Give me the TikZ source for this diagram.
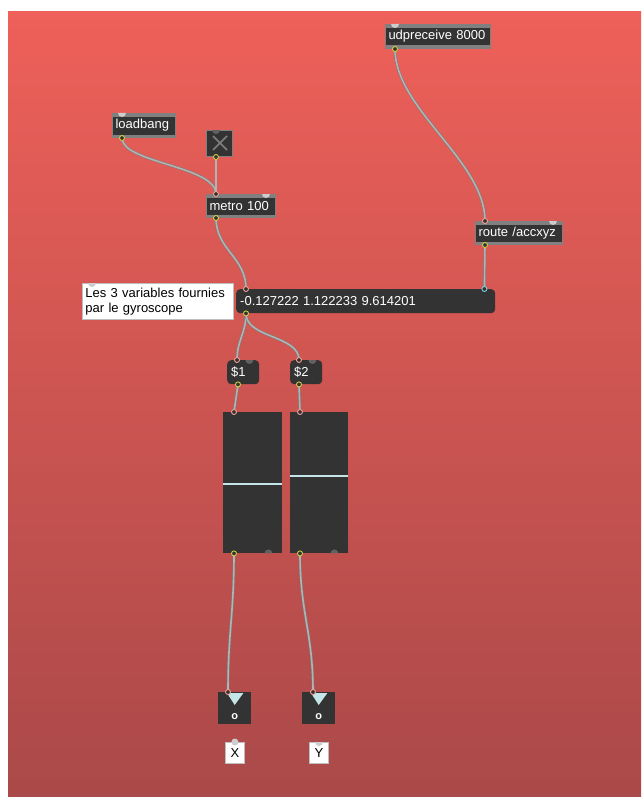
\documentclass[tikz,border=0pt]{standalone}
\usepackage{fontspec}
\setmainfont{Liberation Sans}

\definecolor{bgtop}{RGB}{238,96,89}
\definecolor{bgbottom}{RGB}{170,73,73}
\definecolor{objdark}{RGB}{51,51,51}
\definecolor{objgray}{RGB}{128,128,128}
\definecolor{cablegray}{RGB}{178,180,180}
\definecolor{cableedge}{RGB}{120,122,122}
\definecolor{knobcyan}{RGB}{196,230,232}
\definecolor{outring}{RGB}{205,205,70}
\definecolor{inring}{RGB}{236,160,150}
\definecolor{cyanring}{RGB}{120,210,225}
\definecolor{hintgray}{RGB}{205,205,205}
\definecolor{commentedge}{RGB}{190,190,190}

\newcommand{\maxfont}{\fontsize{13}{15}\selectfont}

\tikzset{
  maxobj/.style={anchor=north west, fill=objdark, draw=objgray, line width=1pt,
    text=white, font=\maxfont, inner xsep=3pt, inner ysep=0pt, align=left,
    path picture={
      \fill[objgray] (path picture bounding box.north west) rectangle ([yshift=-3.5pt]path picture bounding box.north east);
      \fill[objgray] (path picture bounding box.south west) rectangle ([yshift=3pt]path picture bounding box.south east);}},
  msgbox/.style={anchor=north west, fill=objdark, rounded corners=4pt, text=white,
    font=\maxfont, inner xsep=4pt, inner ysep=0pt, align=left},
  note/.style={anchor=north west, fill=white, draw=commentedge, line width=0.8pt,
    text=black, font=\maxfont, inner xsep=3pt, inner ysep=2pt, align=left},
  slider/.style={anchor=north west, fill=objdark, inner sep=0pt},
  outbox/.style={anchor=north west, fill=objdark, inner sep=0pt, minimum width=33, minimum height=32,
    label={[text=white, font=\bfseries\fontsize{11}{11}\selectfont, yshift=-8pt]center:o}},
  knob/.style={draw=knobcyan, line width=2pt},
  cable/.style={draw=cableedge, line width=0.5pt, double=cablegray, double distance=1.6pt},
  outport/.style={draw=outring, line width=0.9pt, fill=objdark},
  inport/.style={draw=inring, line width=0.9pt, fill=objdark},
}

\begin{document}
\begin{tikzpicture}[x=1pt,y=-1pt]
    \useasboundingbox (0,0) rectangle (641,797);
    % patcher background
    \shade[top color=bgtop, bottom color=bgbottom] (8,12) rectangle (641,797);

    % objects
    \node[maxobj, text width=99, minimum height=24] (udp) at (385,24) {udpreceive 8000};
    \node[maxobj, text width=57, minimum height=24] (lbang) at (112,113) {loadbang};
    \node[anchor=north west, fill=objdark, draw=objgray, line width=1pt,
          minimum width=26, minimum height=26, inner sep=0pt] (tog) at (206,130) {};
    \node[maxobj, text width=63, minimum height=23] (metro) at (206,194) {metro 100};
    \node[maxobj, text width=81, minimum height=23] (route) at (475,221) {route /accxyz};
    \node[note, text width=145, minimum height=36] (gyro) at (82,283) {Les 3 variables fournies\\par le gyroscope};
    \node[msgbox, text width=251, minimum height=24] (vals) at (236,289) {-0.127222 1.122233 9.614201};
    \node[msgbox, text width=24, minimum height=24] (d1) at (227,360) {\$1};
    \node[msgbox, text width=24, minimum height=24] (d2) at (290,360) {\$2};
    \node[slider, minimum width=59, minimum height=141] (sl1) at (223,412) {};
    \node[slider, minimum width=58, minimum height=141] (sl2) at (290,412) {};
    \node[outbox] (out1) at (218,692) {};
    \node[outbox] (out2) at (302,692) {};
    \node[note, inner sep=0pt, minimum width=19, minimum height=21] (lx) at (225,742) {X};
    \node[note, inner sep=0pt, minimum width=19, minimum height=21] (ly) at (309,742) {Y};

    % toggle cross
    \draw[objgray, line width=1.6pt] ([shift={(7pt,-6pt)}]tog.north west) -- ([shift={(-6pt,7pt)}]tog.south east);
    \draw[objgray, line width=1.6pt] ([shift={(7pt,7pt)}]tog.south west) -- ([shift={(-6pt,-6pt)}]tog.north east);

    % slider knobs
    \draw[knob] ([yshift=-72pt]sl1.north west) -- ([yshift=-72pt]sl1.north east);
    \draw[knob] ([yshift=-64pt]sl2.north west) -- ([yshift=-64pt]sl2.north east);

    % outlet triangles
    \fill[knobcyan] ([xshift=9pt,yshift=-1pt]out1.north west) -- ([xshift=-8pt,yshift=-1pt]out1.north east) -- ([yshift=-13pt]out1.north) -- cycle;
    \fill[knobcyan] ([xshift=9pt,yshift=-1pt]out2.north west) -- ([xshift=-8pt,yshift=-1pt]out2.north east) -- ([yshift=-13pt]out2.north) -- cycle;

    % unused inlets / outlets
    \fill[hintgray] ([xshift=6pt]udp.north west) arc[start angle=180, end angle=360, radius=4pt];
    \fill[hintgray] ([xshift=6pt]lbang.north west) arc[start angle=180, end angle=360, radius=4pt];
    \fill[hintgray] ([xshift=-14pt]metro.north east) arc[start angle=180, end angle=360, radius=4pt];
    \fill[hintgray] ([xshift=-14pt]route.north east) arc[start angle=180, end angle=360, radius=4pt];
    \fill[hintgray] ([xshift=6pt]gyro.north west) arc[start angle=180, end angle=360, radius=4pt];
    \fill[objgray!60!objdark] ([xshift=6pt]tog.north west) arc[start angle=180, end angle=360, radius=4pt];
    \fill[objgray!60!objdark] ([xshift=-14pt]d1.north east) arc[start angle=180, end angle=360, radius=4pt];
    \fill[objgray!60!objdark] ([xshift=-14pt]d2.north east) arc[start angle=180, end angle=360, radius=4pt];
    \fill[objgray!60!objdark] ([xshift=-10pt]sl1.south east) arc[start angle=0, end angle=180, radius=4pt];
    \fill[objgray!60!objdark] ([xshift=-10pt]sl2.south east) arc[start angle=0, end angle=180, radius=4pt];
    \fill[hintgray] (lx.north) circle[radius=3.5pt];
    \fill[hintgray] ([xshift=-4pt]ly.north) arc[start angle=180, end angle=360, radius=4pt];

    % cables
    \draw[cable] ([xshift=10pt]udp.south west) .. controls +(0,60) and +(0,-60) .. ([xshift=10pt]route.north west);
    \draw[cable] ([xshift=10pt]lbang.south west) .. controls +(0,25) and +(0,-28) .. ([xshift=10pt]metro.north west);
    \draw[cable] ([xshift=10pt]tog.south west) -- ([xshift=10pt]metro.north west);
    \draw[cable] ([xshift=10pt]metro.south west) .. controls +(0,32) and +(0,-32) .. ([xshift=10pt]vals.north west);
    \draw[cable] ([xshift=10pt]route.south west) -- ([xshift=-11pt]vals.north east);
    \draw[cable] ([xshift=10pt]vals.south west) .. controls +(0,20) and +(0,-20) .. ([xshift=10pt]d1.north west);
    \draw[cable] ([xshift=10pt]vals.south west) .. controls +(0,25) and +(0,-25) .. ([xshift=9pt]d2.north west);
    \draw[cable] ([xshift=11pt]d1.south west) -- ([xshift=11pt]sl1.north west);
    \draw[cable] ([xshift=9pt]d2.south west) -- ([xshift=10pt]sl2.north west);
    \draw[cable] ([xshift=11pt]sl1.south west) .. controls +(0,60) and +(0,-60) .. ([xshift=10pt]out1.north west);
    \draw[cable] ([xshift=10pt]sl2.south west) .. controls +(0,60) and +(0,-60) .. ([xshift=11pt]out2.north west);

    % connected ports
    \draw[outport] ([xshift=10pt]udp.south west) circle[radius=2.5pt];
    \draw[outport] ([xshift=10pt]lbang.south west) circle[radius=2.5pt];
    \draw[outport] ([xshift=10pt]tog.south west) circle[radius=2.5pt];
    \draw[outport] ([xshift=10pt]metro.south west) circle[radius=2.5pt];
    \draw[outport] ([xshift=10pt]route.south west) circle[radius=2.5pt];
    \draw[outport] ([xshift=10pt]vals.south west) circle[radius=2.5pt];
    \draw[outport] ([xshift=11pt]d1.south west) circle[radius=2.5pt];
    \draw[outport] ([xshift=9pt]d2.south west) circle[radius=2.5pt];
    \draw[outport] ([xshift=11pt]sl1.south west) circle[radius=2.5pt];
    \draw[outport] ([xshift=10pt]sl2.south west) circle[radius=2.5pt];
    \draw[inport] ([xshift=10pt]route.north west) circle[radius=2.5pt];
    \draw[inport] ([xshift=10pt]metro.north west) circle[radius=2.5pt];
    \draw[inport] ([xshift=10pt]vals.north west) circle[radius=2.5pt];
    \draw[inport, draw=cyanring] ([xshift=-11pt]vals.north east) circle[radius=2.5pt];
    \draw[inport] ([xshift=10pt]d1.north west) circle[radius=2.5pt];
    \draw[inport] ([xshift=9pt]d2.north west) circle[radius=2.5pt];
    \draw[inport] ([xshift=11pt]sl1.north west) circle[radius=2.5pt];
    \draw[inport] ([xshift=10pt]sl2.north west) circle[radius=2.5pt];
    \draw[inport] ([xshift=10pt]out1.north west) circle[radius=2.5pt];
    \draw[inport] ([xshift=11pt]out2.north west) circle[radius=2.5pt];
\end{tikzpicture}
\end{document}
